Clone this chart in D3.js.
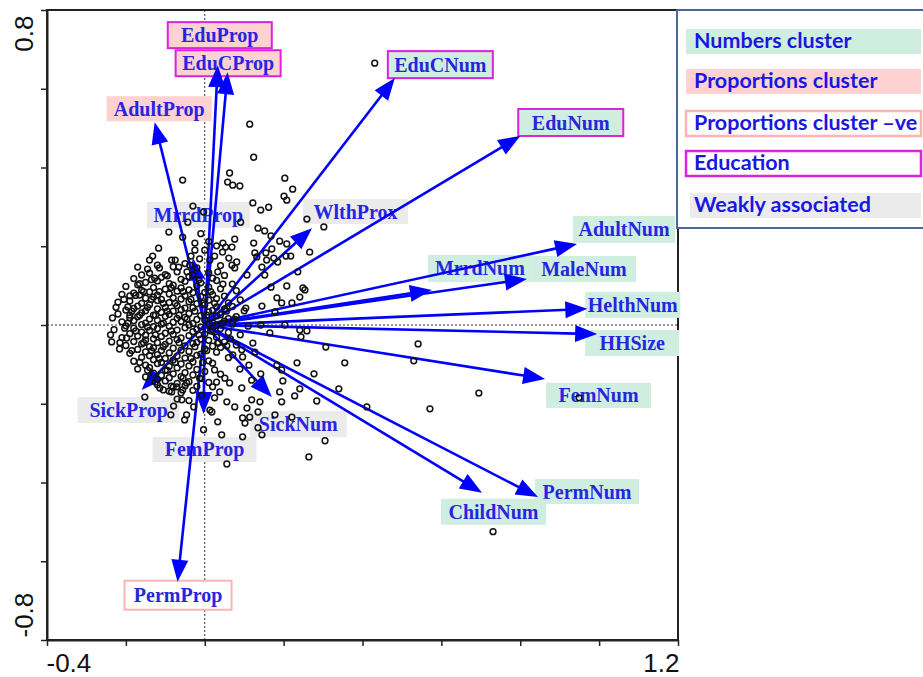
<!DOCTYPE html>
<html>
<head>
<meta charset="utf-8">
<script src="https://cdn.jsdelivr.net/npm/d3@7"></script>
<style>
  html, body { margin: 0; padding: 0; background: #fff; }
  svg { display: block; }
</style>
</head>
<body>
<svg id="chart" width="923" height="677"></svg>
<script>
// ---- Data -------------------------------------------------------------
// Variable loadings (arrow tips) on the two components
const varNames = ["EduProp","EduCProp","AdultProp","MrrdProp","EduCNum","EduNum","WlthProx",
  "AdultNum","MrrdNum","MaleNum","HelthNum","HHSize","FemNum","PermNum","ChildNum",
  "SickNum","FemProp","SickProp","PermProp"];
const loadX = [0.033, 0.058, -0.127, -0.030, 0.482, 0.800, 0.272,
  0.944, 0.576, 0.817, 0.970, 0.995, 0.863, 0.845, 0.703,
  0.170, -0.003, -0.160, -0.069];
const loadY = [0.660, 0.642, 0.515, 0.170, 0.627, 0.480, 0.246,
  0.206, 0.089, 0.117, 0.041, -0.023, -0.137, -0.437, -0.426,
  -0.183, -0.226, -0.165, -0.652];
const varGroup = ["propEdu","propEdu","prop","weak","numEdu","numEdu","weak",
  "num","num","num","num","num","num","num","num",
  "weak","weak","weak","propNeg"];

// Household scores
const scores = [
  [0.431,0.665],[0.114,0.510],[0.124,0.426],[-0.056,0.368],[0.063,0.386],[0.058,0.363],[0.071,0.355],
  [0.089,0.353],[0.203,0.373],[0.223,0.345],[0.201,0.327],[0.208,0.317],[0.122,0.310],[0.142,0.292],
  [0.162,0.299],[-0.030,0.302],[0.091,0.261],[0.259,0.269],[0.302,0.249],[0.135,0.246],[0.152,0.239],
  [0.168,0.226],[0.124,0.208],[0.076,0.218],[0.190,0.213],[0.208,0.206],[0.046,0.208],[0.030,0.201],
  [0.053,0.198],[0.069,0.198],[0.170,0.193],[0.127,0.183],[0.155,0.183],[0.132,0.173],[0.157,0.165],
  [0.175,0.170],[0.185,0.160],[0.206,0.175],[0.218,0.175],[0.266,0.185],[0.061,0.170],[0.081,0.160],
  [0.069,0.152],[0.145,0.147],[0.076,0.145],[0.107,0.127],[0.152,0.127],[0.236,0.135],[0.046,0.104],
  [0.168,0.096],[0.208,0.099],[0.249,0.094],[0.254,0.089],[0.241,0.071],[0.183,0.069],[0.195,0.056],
  [0.221,0.056],[0.145,0.048],[0.104,0.043],[0.178,0.033],[0.541,-0.048],[0.355,-0.096],[0.530,-0.091],
  [0.340,-0.162],[0.411,-0.208],[0.571,-0.213],[0.695,-0.173],[0.949,-0.185],[0.731,-0.525],
  [0.142,0.000],[0.165,-0.020],[0.203,0.000],[0.241,-0.013],[0.259,-0.015],[0.244,-0.030],[0.307,-0.056],
  [0.234,-0.096],[0.277,-0.124],[0.284,-0.193],[0.241,-0.162],[0.228,-0.180],[0.190,-0.170],[0.195,-0.195],
  [0.198,-0.142],[0.142,-0.124],[0.183,-0.102],[0.195,-0.114],[0.122,-0.046],[0.127,-0.069],[0.094,-0.063],
  [0.096,-0.081],[0.071,-0.076],[0.056,-0.053],[0.033,-0.046],[0.112,-0.102],[0.089,-0.112],[0.119,-0.140],
  [0.094,-0.160],[0.063,-0.147],[0.051,-0.135],[0.025,-0.114],[0.030,-0.145],[0.038,-0.170],[0.025,-0.185],
  [0.056,-0.195],[0.076,-0.208],[0.119,-0.190],[0.140,-0.195],[0.107,-0.211],[0.135,-0.221],[0.114,-0.234],
  [0.096,-0.236],[0.102,-0.249],[0.178,-0.228],[0.221,-0.234],[0.018,-0.221],[0.033,-0.246],[-0.003,-0.266],
  [0.043,-0.279],[0.096,-0.284],[0.145,-0.279],[0.135,-0.261],[0.305,-0.294],[0.264,-0.335],[0.056,-0.353],
  [-0.152,-0.183],[-0.114,-0.160],[-0.084,-0.170],[-0.071,-0.157],[-0.056,-0.165],[-0.046,-0.147],
  [-0.058,-0.190],[-0.079,-0.206],[-0.086,-0.228],[-0.046,-0.228],[-0.051,-0.241],[-0.028,-0.208],
  [0.013,-0.216],[-0.008,-0.178],[0.020,-0.157],[-0.013,-0.135],
  [-0.043,0.261],[-0.003,0.287],[-0.091,0.236],[-0.056,0.223],[-0.025,0.208],[-0.025,0.190],[-0.117,0.195],
  [-0.132,0.175],[-0.140,0.165],[-0.170,0.147],[-0.160,0.127],[-0.145,0.142],[-0.127,0.119],[-0.084,0.165],
  [-0.066,0.147],[-0.038,0.152],[-0.013,0.168],[0.013,0.165],[0.033,0.135],[-0.190,0.074],[-0.165,0.076],
  [-0.195,0.046],[-0.190,0.025],[-0.234,0.018],[-0.239,-0.025],[-0.236,-0.043],[-0.216,-0.061],[-0.198,-0.033],
  [-0.203,-0.008],[0.000,0.190],[0.010,0.212],[-0.010,0.232],
  // dense core around the origin
  [-0.12,0.152],[-0.08,0.148],[-0.05,0.156],[-0.02,0.145],[0.04,0.151],
  [-0.14,0.132],[-0.10,0.128],[-0.07,0.135],[-0.03,0.127],[0.01,0.133],[0.05,0.126],
  [-0.18,0.118],[-0.11,0.121],[-0.06,0.116],[-0.04,0.123],[0.02,0.119],
  [-0.15,0.108],[-0.12,0.112],[-0.09,0.105],[-0.05,0.111],[-0.01,0.107],[0.03,0.113],[0.07,0.104],
  [-0.20,0.098],[-0.17,0.102],[-0.13,0.095],[-0.08,0.101],[-0.06,0.094],[-0.02,0.099],[0.01,0.096],
  [-0.16,0.088],[-0.14,0.084],[-0.10,0.091],[-0.07,0.086],[-0.04,0.089],[0.00,0.083],[0.04,0.092],[0.08,0.087],
  [-0.21,0.078],[-0.18,0.081],[-0.12,0.076],[-0.09,0.079],[-0.05,0.074],[-0.03,0.082],[0.02,0.077],[0.05,0.073],
  [-0.15,0.068],[-0.13,0.071],[-0.11,0.065],[-0.08,0.069],[-0.06,0.066],[-0.01,0.072],[0.03,0.067],[0.09,0.064],
  [-0.22,0.058],[-0.19,0.061],[-0.16,0.055],[-0.12,0.062],[-0.09,0.057],[-0.04,0.059],[-0.02,0.054],[0.01,0.063],[0.06,0.056],
  [-0.17,0.048],[-0.14,0.052],[-0.10,0.045],[-0.07,0.049],[-0.05,0.043],[0.00,0.051],[0.03,0.046],[0.07,0.047],
  [-0.20,0.038],[-0.18,0.042],[-0.15,0.036],[-0.12,0.041],[-0.08,0.035],[-0.06,0.039],[-0.03,0.044],[0.02,0.037],[0.05,0.041],[0.10,0.036],
  [-0.22,0.028],[-0.16,0.031],[-0.13,0.025],[-0.11,0.032],[-0.09,0.027],[-0.04,0.029],[-0.01,0.024],[0.01,0.033],[0.04,0.026],
  [-0.19,0.018],[-0.17,0.021],[-0.14,0.015],[-0.10,0.022],[-0.07,0.017],[-0.05,0.019],[-0.02,0.014],[0.03,0.023],[0.06,0.016],[0.08,0.021],
  [-0.21,0.008],[-0.18,0.011],[-0.15,0.005],[-0.12,0.012],[-0.08,0.007],[-0.06,0.009],[-0.03,0.004],[0.00,0.013],[0.02,0.006],[0.05,0.010],
  [-0.20,-0.002],[-0.16,0.001],[-0.13,-0.004],[-0.11,0.002],[-0.09,-0.003],[-0.04,0.000],[-0.01,-0.005],[0.01,0.003],[0.03,-0.001],[0.07,0.002],[0.11,-0.003],
  [-0.23,-0.012],[-0.18,-0.008],[-0.14,-0.014],[-0.12,-0.009],[-0.07,-0.013],[-0.05,-0.007],[-0.02,-0.011],[0.02,-0.015],[0.04,-0.009],
  [-0.19,-0.022],[-0.16,-0.018],[-0.15,-0.026],[-0.10,-0.021],[-0.08,-0.024],[-0.03,-0.017],[0.00,-0.023],[0.06,-0.019],[0.09,-0.025],
  [-0.21,-0.032],[-0.17,-0.028],[-0.13,-0.035],[-0.11,-0.029],[-0.06,-0.033],[-0.04,-0.027],[-0.01,-0.036],[0.03,-0.031],
  [-0.18,-0.042],[-0.15,-0.038],[-0.12,-0.045],[-0.09,-0.041],[-0.07,-0.037],[-0.02,-0.044],[0.01,-0.039],[0.05,-0.043],
  [-0.20,-0.052],[-0.16,-0.048],[-0.14,-0.055],[-0.10,-0.049],[-0.05,-0.053],[-0.03,-0.047],[0.02,-0.054],[0.08,-0.051],
  [-0.17,-0.062],[-0.13,-0.058],[-0.11,-0.065],[-0.08,-0.059],[-0.06,-0.064],[0.00,-0.061],[0.04,-0.057],
  [-0.19,-0.072],[-0.15,-0.068],[-0.12,-0.075],[-0.09,-0.071],[-0.04,-0.067],[-0.01,-0.074],[0.03,-0.069],
  [-0.16,-0.082],[-0.14,-0.078],[-0.10,-0.085],[-0.07,-0.079],[-0.05,-0.084],[-0.02,-0.077],[0.06,-0.083],
  [-0.18,-0.092],[-0.13,-0.088],[-0.11,-0.095],[-0.08,-0.089],[-0.03,-0.094],[0.01,-0.091],
  [-0.15,-0.102],[-0.12,-0.098],[-0.09,-0.105],[-0.06,-0.099],[-0.04,-0.104],[0.02,-0.097],
  [-0.17,-0.112],[-0.14,-0.108],[-0.10,-0.115],[-0.07,-0.109],[-0.02,-0.113],[0.00,-0.118],
  [-0.13,-0.122],[-0.11,-0.128],[-0.08,-0.124],[-0.05,-0.121],[-0.03,-0.127],[0.04,-0.125],
  [-0.15,-0.132],[-0.12,-0.138],[-0.09,-0.134],[-0.06,-0.131],[-0.01,-0.136],
  [-0.10,-0.142],[-0.07,-0.148],[-0.04,-0.144],[0.01,-0.146],
  [-0.12,-0.152],[-0.08,-0.158],[-0.05,-0.154],[-0.02,-0.156],
  [-0.09,-0.168],[-0.06,-0.172],[-0.03,-0.166],
  [-0.07,-0.188],[-0.04,-0.192],
  [-0.225,0.045],[-0.205,0.065],[-0.195,0.005],[-0.185,0.035],[-0.175,0.075],[-0.175,-0.015],[-0.165,0.105],
  [-0.165,0.025],[-0.155,-0.045],[-0.155,0.085],[-0.145,0.045],[-0.145,-0.005],[-0.135,0.115],[-0.135,0.065],
  [-0.135,-0.065],[-0.125,0.025],[-0.125,-0.025],[-0.115,0.085],[-0.115,-0.085],[-0.105,0.055],[-0.105,0.005],
  [-0.105,-0.055],[-0.095,0.125],[-0.095,0.035],[-0.095,-0.115],[-0.085,0.095],[-0.085,-0.015],[-0.075,0.055],
  [-0.075,-0.095],[-0.065,0.025],[-0.065,-0.045],[-0.055,0.085],[-0.055,-0.135],[-0.045,0.135],[-0.045,0.015],
  [-0.035,-0.085],[-0.035,0.065],[-0.025,0.035],[-0.025,-0.055],[-0.015,0.115],[-0.015,-0.025],[-0.005,0.055],
  [-0.005,-0.095],[0.005,0.025],[0.005,-0.065],[0.015,0.085],[0.015,-0.015],[0.025,0.055],[0.035,-0.045],
  [0.045,0.005],[0.055,0.035],[0.065,-0.035],[0.075,0.015],[-0.215,-0.045],[-0.185,-0.065],[-0.165,-0.095],
  [-0.145,-0.115],[-0.125,-0.145],[-0.105,-0.165],[-0.085,-0.155],[-0.115,0.145],[-0.075,0.165],[-0.035,0.175],
  [0.025,0.175],[0.045,0.185]
];

// Axis ticks
const xTickValues = [-0.4,-0.2,0,0.2,0.4,0.6,0.8,1.0,1.2];
const xTickLabels = {"-0.4":"-0.4","1.2":"1.2"};
const yTickValues = [-0.8,-0.6,-0.4,-0.2,0,0.2,0.4,0.6,0.8];
const yTickLabels = {"-0.8":"-0.8","0.8":"0.8"};

// Legend
const legendLabels = ["Numbers cluster","Proportions cluster","Proportions cluster \u2013ve","Education","Weakly associated"];
const legendKeys = ["num","prop","propNeg","edu","weak"];

// ---- Styling / layout ---------------------------------------------------
const groupStyle = {
  num:     {fill:"#d0eedf", stroke:"none"},
  prop:    {fill:"#ffd2d2", stroke:"none"},
  propNeg: {fill:"#ffffff", stroke:"#ffb4b4"},
  edu:     {fill:"#ffffff", stroke:"#dd22dd"},
  numEdu:  {fill:"#d0eedf", stroke:"#dd22dd"},
  propEdu: {fill:"#ffd2d2", stroke:"#dd22dd"},
  weak:    {fill:"#ebebeb", stroke:"none"}
};
// label box placement relative to each arrow tip: [dx, dy, width, height]
const labelBox = {
  EduProp:[-50,-43,104,26], EduCProp:[-52,-22,105,26], AdultProp:[-48,-26,105,25],
  MrrdProp:[-46,-56,103,26], EduCNum:[-7,-27,105,27], EduNum:[-2,-27,105,27],
  WlthProx:[-9,-29,105,25], AdultNum:[-4,-28,102,27], MrrdNum:[-4,-35,104,27],
  MaleNum:[5,-23,104,26], HelthNum:[-2,-17,95,26], HHSize:[-12,-4,94,26],
  FemNum:[1,4,105,25], PermNum:[-3,-18,104,25], ChildNum:[-41,6,105,26],
  SickNum:[-22,14,97,26], FemProp:[-51,23,104,25], SickProp:[-64,7,102,26],
  PermProp:[-53,-1,107,29]
};

const plot = {left:47, right:678, top:10, bottom:640};
const svg = d3.select("#chart");

const x = d3.scaleLinear().domain([-0.4,1.2]).range([plot.left, plot.right]);
const y = d3.scaleLinear().domain([-0.8,0.8]).range([plot.bottom, plot.top]);

// reference lines through the origin
svg.append("line").attr("x1",plot.left).attr("x2",plot.right).attr("y1",y(0)).attr("y2",y(0))
  .attr("stroke","#333").attr("stroke-width",1).attr("stroke-dasharray","2,2");
svg.append("line").attr("x1",x(0)).attr("x2",x(0)).attr("y1",plot.top).attr("y2",plot.bottom)
  .attr("stroke","#333").attr("stroke-width",1).attr("stroke-dasharray","2,2");

// frame
svg.append("rect").attr("x",plot.left).attr("y",plot.top)
  .attr("width",plot.right-plot.left).attr("height",plot.bottom-plot.top)
  .attr("fill","none").attr("stroke","#222").attr("stroke-width",2);

// axes
const xAxis = d3.axisBottom(x).tickValues(xTickValues).tickSize(6).tickSizeOuter(0)
  .tickFormat(d => xTickLabels[String(+d.toFixed(1))] || "");
const gx = svg.append("g").attr("transform",`translate(0,${plot.bottom})`).call(xAxis);
gx.select(".domain").attr("stroke","#222").attr("stroke-width",2);
gx.selectAll(".tick line").attr("stroke","#222").attr("stroke-width",1.5);
gx.selectAll(".tick text")
  .attr("font-family","'Liberation Sans', Arial, sans-serif").attr("font-size",26)
  .attr("fill","#111").attr("dy",null).attr("y",32)
  .attr("text-anchor", d => d < 0 ? "start" : "end")
  .attr("dx", d => d < 0 ? -1 : 1);

const yAxis = d3.axisLeft(y).tickValues(yTickValues).tickSize(6).tickSizeOuter(0)
  .tickFormat(d => yTickLabels[String(+d.toFixed(1))] || "");
const gy = svg.append("g").attr("transform",`translate(${plot.left},0)`).call(yAxis);
gy.select(".domain").attr("stroke","#222").attr("stroke-width",2);
gy.selectAll(".tick line").attr("stroke","#222").attr("stroke-width",1.5);
gy.selectAll(".tick text")
  .attr("font-family","'Liberation Sans', Arial, sans-serif").attr("font-size",26)
  .attr("fill","#111").attr("x",null).attr("dy",null)
  .attr("transform", d => `translate(-14,${d > 0 ? 5 : -3}) rotate(-90)`)
  .attr("text-anchor", d => d > 0 ? "end" : "start");

// variable records
const vars = varNames.map((n,i) => ({name:n, lx:loadX[i], ly:loadY[i], group:varGroup[i]}));

// label boxes
const labG = svg.append("g");
vars.forEach(v => {
  const [dx,dy,w,h] = labelBox[v.name];
  const tx = x(v.lx), ty = y(v.ly);
  const st = groupStyle[v.group];
  labG.append("rect").attr("x",tx+dx).attr("y",ty+dy).attr("width",w).attr("height",h)
    .attr("fill",st.fill).attr("stroke",st.stroke).attr("stroke-width",st.stroke==="none"?0:2);
  labG.append("text").attr("x",tx+dx+w/2).attr("y",ty+dy+h/2+7)
    .attr("text-anchor","middle")
    .attr("font-family","'Liberation Serif','Times New Roman',serif")
    .attr("font-weight","bold").attr("font-size",20)
    .attr("fill","#2626e0").text(v.name);
});

// arrows from the origin
const arrG = svg.append("g");
const ox = x(0), oy = y(0);
const headLen = 22, headHalf = 8.5;
vars.forEach(v => {
  const tx = x(v.lx), ty = y(v.ly);
  const a = Math.atan2(ty-oy, tx-ox);
  const c = Math.cos(a), s = Math.sin(a);
  const bx = tx - headLen*c, by = ty - headLen*s;
  arrG.append("line").attr("x1",ox).attr("y1",oy).attr("x2",bx+2*c).attr("y2",by+2*s)
    .attr("stroke","#0000ff").attr("stroke-width",2.6);
  arrG.append("path")
    .attr("d",`M${tx},${ty}L${bx - headHalf*s},${by + headHalf*c}L${bx + headHalf*s},${by - headHalf*c}Z`)
    .attr("fill","#0000ff");
});

// scores
svg.append("g").selectAll("circle").data(scores).join("circle")
  .attr("cx", d => x(d[0])).attr("cy", d => y(d[1])).attr("r",2.9)
  .attr("fill","none").attr("stroke","#111").attr("stroke-width",1.5);

// legend
const lg = svg.append("g");
lg.append("rect").attr("x",677).attr("y",10).attr("width",260).attr("height",218)
  .attr("fill","#fff").attr("stroke","#46689a").attr("stroke-width",2);
const legTop = [29,69,111,151,193];
legendKeys.forEach((k,i) => {
  const st = groupStyle[k];
  const bx = k === "weak" ? 690 : 686;
  lg.append("rect").attr("x",bx).attr("y",legTop[i]).attr("width",921-bx).attr("height",25)
    .attr("fill",st.fill).attr("stroke",st.stroke).attr("stroke-width",st.stroke==="none"?0:2.5);
  lg.append("text").attr("x",694).attr("y",legTop[i]+19)
    .attr("font-family","Lato, 'Open Sans', sans-serif").attr("font-weight","bold")
    .attr("font-size",21.5).attr("fill","#1818e0").text(legendLabels[i]);
});
</script>
</body>
</html>
